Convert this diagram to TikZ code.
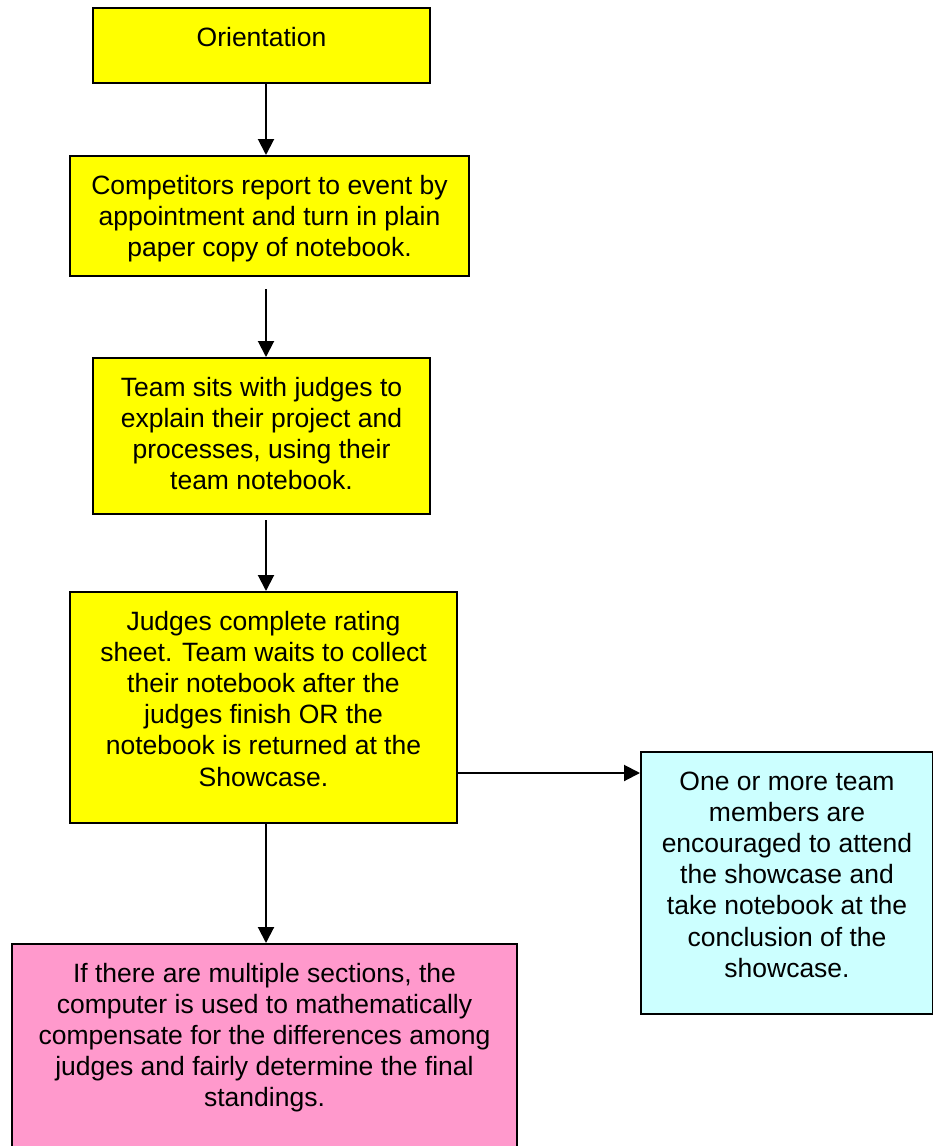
\documentclass[tikz,border=0pt]{standalone}
\usepackage{fontspec}
\setmainfont{Liberation Sans}
\usetikzlibrary{positioning,arrows.meta}
\definecolor{stepyellow}{HTML}{FFFF00}
\definecolor{stepcyan}{HTML}{CCFFFF}
\definecolor{steppink}{HTML}{FF99CC}
\newcommand{\boxtxt}[3]{\parbox[c][#2][t]{#1}{\centering\rule{0pt}{38pt}#3}}

\begin{document}
\begin{tikzpicture}[
            x=1pt, y=-1pt,
            every node/.style={ inner sep=0pt, font=\fontsize{26.5}{31.2}\selectfont },
            stage/.style={ draw, line width=2pt, fill=stepyellow },
            flow/.style={ line width=2pt, -{Triangle[width=16pt,length=16pt]} }
        ]
        \useasboundingbox (0,0) rectangle (933,1146);
        \coordinate (spine) at (266,0);

        \node[stage] (orient) at (261.5,45.5) {\boxtxt{337pt}{75pt}{Orientation}};
        \node[stage] (report) at (269.5,216) {\boxtxt{399pt}{120pt}{Competitors report to event by\\ appointment and turn in plain\\ paper copy of notebook.}};
        \node[stage] (sits) at (261.5,436) {\boxtxt{337pt}{156pt}{Team sits with judges to\\ explain their project and\\ processes, using their\\ team notebook.}};
        \node[stage] (rating) at (263.5,707.5) {\boxtxt{387pt}{231pt}{Judges complete rating\\ sheet.  Team waits to collect\\ their notebook after the\\ judges finish OR the\\ notebook is returned at the\\ Showcase.}};
        \node[stage, fill=stepcyan] (showcase) at (787,883) {\boxtxt{292pt}{262pt}{One or more team\\ members are\\ encouraged to attend\\ the showcase and\\ take notebook at the\\ conclusion of the\\ showcase.}};
        \node[stage, fill=steppink] (standings) at (264.5,1051.5) {\boxtxt{505pt}{215pt}{If there are multiple sections, the\\ computer is used to mathematically\\ compensate for the differences among\\ judges and fairly determine the final\\ standings.}};

        \draw[flow] (orient.south -| spine) -- (report.north -| spine);
        \draw[flow, shorten <=12pt] (report.south -| spine) -- (sits.north -| spine);
        \draw[flow, shorten <=5pt] (sits.south -| spine) -- (rating.north -| spine);
        \draw[flow] (rating.south -| spine) -- (standings.north -| spine);
        \draw[flow] ([yshift=-22pt]rating.east |- showcase.north) -- ([yshift=-22pt]showcase.north west);
    \end{tikzpicture}
\end{document}
